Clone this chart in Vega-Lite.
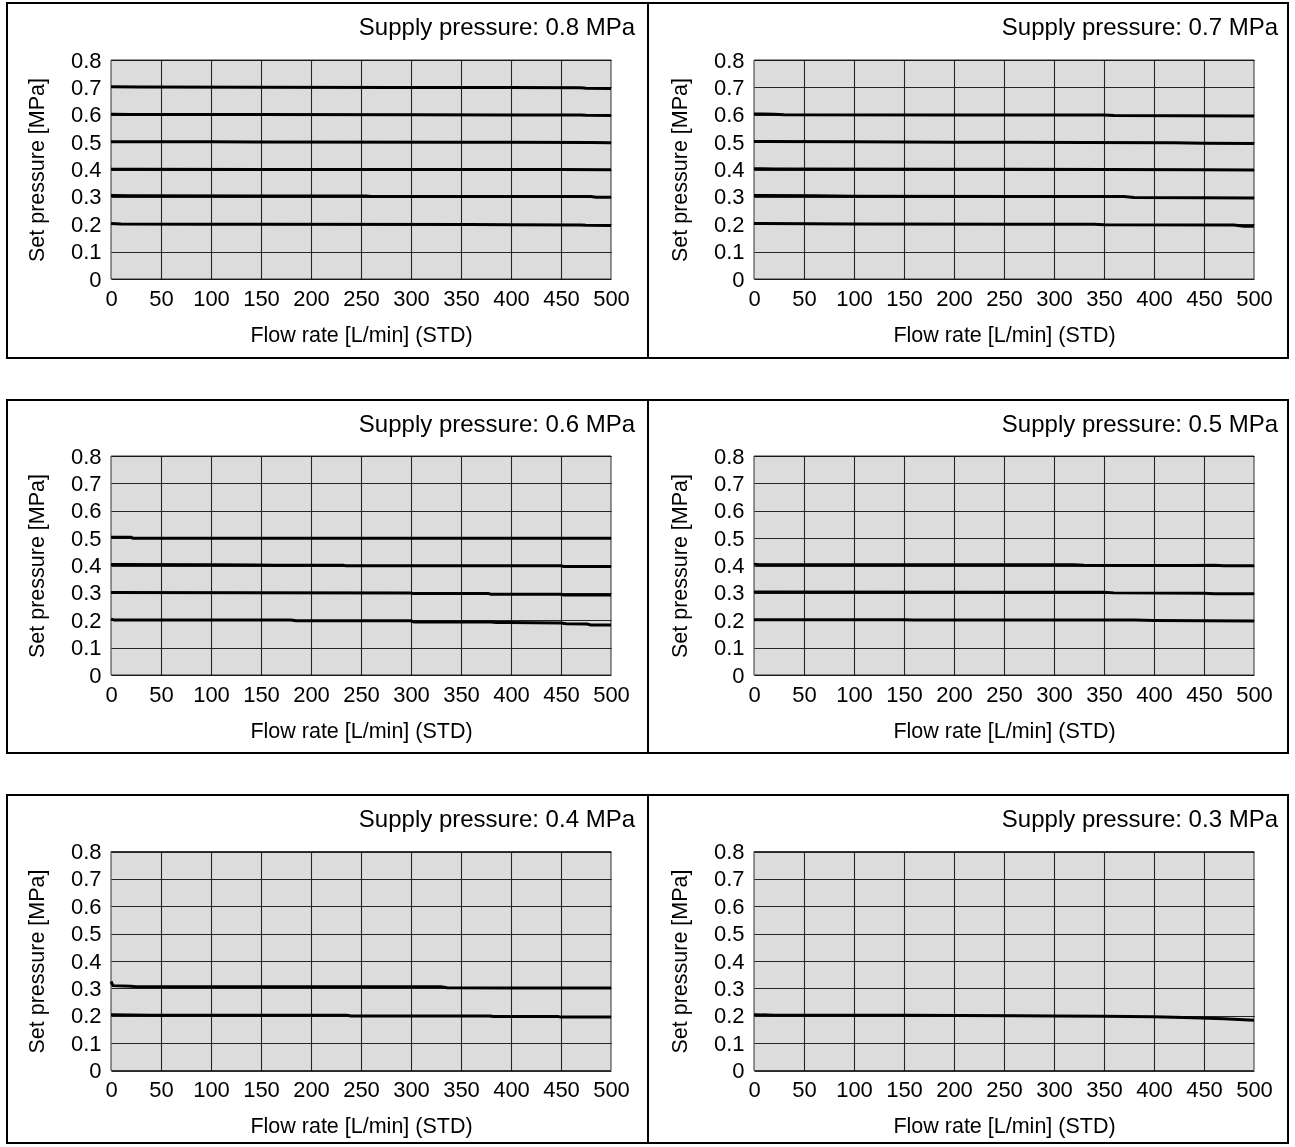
{
  "$schema": "https://vega.github.io/schema/vega-lite/v6.json",
  "padding": {"left": 6, "top": 2, "right": 0, "bottom": 0},
  "background": "white",
  "spacing": 40,
  "datasets": {
    "d": [
      {"supply":0.8,"set":0.7,"flow":0,"p":0.702},{"supply":0.8,"set":0.7,"flow":30,"p":0.701},{"supply":0.8,"set":0.7,"flow":285,"p":0.700},{"supply":0.8,"set":0.7,"flow":470,"p":0.699},{"supply":0.8,"set":0.7,"flow":475,"p":0.697},{"supply":0.8,"set":0.7,"flow":500,"p":0.696},
      {"supply":0.8,"set":0.6,"flow":0,"p":0.602},{"supply":0.8,"set":0.6,"flow":20,"p":0.601},{"supply":0.8,"set":0.6,"flow":300,"p":0.600},{"supply":0.8,"set":0.6,"flow":470,"p":0.599},{"supply":0.8,"set":0.6,"flow":475,"p":0.598},{"supply":0.8,"set":0.6,"flow":500,"p":0.597},
      {"supply":0.8,"set":0.5,"flow":0,"p":0.501},{"supply":0.8,"set":0.5,"flow":100,"p":0.501},{"supply":0.8,"set":0.5,"flow":350,"p":0.500},{"supply":0.8,"set":0.5,"flow":480,"p":0.499},{"supply":0.8,"set":0.5,"flow":500,"p":0.498},
      {"supply":0.8,"set":0.4,"flow":0,"p":0.401},{"supply":0.8,"set":0.4,"flow":30,"p":0.401},{"supply":0.8,"set":0.4,"flow":200,"p":0.400},{"supply":0.8,"set":0.4,"flow":450,"p":0.400},{"supply":0.8,"set":0.4,"flow":500,"p":0.399},
      {"supply":0.8,"set":0.3,"flow":0,"p":0.305},{"supply":0.8,"set":0.3,"flow":20,"p":0.304},{"supply":0.8,"set":0.3,"flow":255,"p":0.303},{"supply":0.8,"set":0.3,"flow":260,"p":0.301},{"supply":0.8,"set":0.3,"flow":480,"p":0.301},{"supply":0.8,"set":0.3,"flow":485,"p":0.299},{"supply":0.8,"set":0.3,"flow":500,"p":0.299},
      {"supply":0.8,"set":0.2,"flow":0,"p":0.203},{"supply":0.8,"set":0.2,"flow":10,"p":0.201},{"supply":0.8,"set":0.2,"flow":90,"p":0.200},{"supply":0.8,"set":0.2,"flow":360,"p":0.199},{"supply":0.8,"set":0.2,"flow":470,"p":0.197},{"supply":0.8,"set":0.2,"flow":475,"p":0.196},{"supply":0.8,"set":0.2,"flow":500,"p":0.195},

      {"supply":0.7,"set":0.6,"flow":0,"p":0.603},{"supply":0.7,"set":0.6,"flow":20,"p":0.602},{"supply":0.7,"set":0.6,"flow":30,"p":0.600},{"supply":0.7,"set":0.6,"flow":200,"p":0.599},{"supply":0.7,"set":0.6,"flow":350,"p":0.599},{"supply":0.7,"set":0.6,"flow":360,"p":0.597},{"supply":0.7,"set":0.6,"flow":500,"p":0.595},
      {"supply":0.7,"set":0.5,"flow":0,"p":0.502},{"supply":0.7,"set":0.5,"flow":100,"p":0.501},{"supply":0.7,"set":0.5,"flow":200,"p":0.500},{"supply":0.7,"set":0.5,"flow":330,"p":0.499},{"supply":0.7,"set":0.5,"flow":420,"p":0.498},{"supply":0.7,"set":0.5,"flow":450,"p":0.496},{"supply":0.7,"set":0.5,"flow":500,"p":0.495},
      {"supply":0.7,"set":0.4,"flow":0,"p":0.403},{"supply":0.7,"set":0.4,"flow":20,"p":0.402},{"supply":0.7,"set":0.4,"flow":200,"p":0.401},{"supply":0.7,"set":0.4,"flow":350,"p":0.400},{"supply":0.7,"set":0.4,"flow":450,"p":0.399},{"supply":0.7,"set":0.4,"flow":500,"p":0.398},
      {"supply":0.7,"set":0.3,"flow":0,"p":0.305},{"supply":0.7,"set":0.3,"flow":60,"p":0.304},{"supply":0.7,"set":0.3,"flow":100,"p":0.302},{"supply":0.7,"set":0.3,"flow":370,"p":0.301},{"supply":0.7,"set":0.3,"flow":380,"p":0.298},{"supply":0.7,"set":0.3,"flow":445,"p":0.297},{"supply":0.7,"set":0.3,"flow":500,"p":0.296},
      {"supply":0.7,"set":0.2,"flow":0,"p":0.203},{"supply":0.7,"set":0.2,"flow":100,"p":0.201},{"supply":0.7,"set":0.2,"flow":340,"p":0.200},{"supply":0.7,"set":0.2,"flow":350,"p":0.198},{"supply":0.7,"set":0.2,"flow":480,"p":0.197},{"supply":0.7,"set":0.2,"flow":490,"p":0.193},{"supply":0.7,"set":0.2,"flow":500,"p":0.193},

      {"supply":0.6,"set":0.5,"flow":0,"p":0.503},{"supply":0.6,"set":0.5,"flow":20,"p":0.503},{"supply":0.6,"set":0.5,"flow":22,"p":0.500},{"supply":0.6,"set":0.5,"flow":500,"p":0.500},
      {"supply":0.6,"set":0.4,"flow":0,"p":0.404},{"supply":0.6,"set":0.4,"flow":100,"p":0.403},{"supply":0.6,"set":0.4,"flow":165,"p":0.401},{"supply":0.6,"set":0.4,"flow":232,"p":0.401},{"supply":0.6,"set":0.4,"flow":235,"p":0.399},{"supply":0.6,"set":0.4,"flow":450,"p":0.399},{"supply":0.6,"set":0.4,"flow":453,"p":0.396},{"supply":0.6,"set":0.4,"flow":500,"p":0.396},
      {"supply":0.6,"set":0.3,"flow":0,"p":0.301},{"supply":0.6,"set":0.3,"flow":299,"p":0.300},{"supply":0.6,"set":0.3,"flow":302,"p":0.298},{"supply":0.6,"set":0.3,"flow":377,"p":0.298},{"supply":0.6,"set":0.3,"flow":380,"p":0.295},{"supply":0.6,"set":0.3,"flow":450,"p":0.295},{"supply":0.6,"set":0.3,"flow":453,"p":0.292},{"supply":0.6,"set":0.3,"flow":500,"p":0.292},
      {"supply":0.6,"set":0.2,"flow":0,"p":0.204},{"supply":0.6,"set":0.2,"flow":3,"p":0.201},{"supply":0.6,"set":0.2,"flow":180,"p":0.201},{"supply":0.6,"set":0.2,"flow":185,"p":0.198},{"supply":0.6,"set":0.2,"flow":300,"p":0.198},{"supply":0.6,"set":0.2,"flow":303,"p":0.194},{"supply":0.6,"set":0.2,"flow":380,"p":0.194},{"supply":0.6,"set":0.2,"flow":385,"p":0.192},{"supply":0.6,"set":0.2,"flow":450,"p":0.190},{"supply":0.6,"set":0.2,"flow":455,"p":0.187},{"supply":0.6,"set":0.2,"flow":476,"p":0.186},{"supply":0.6,"set":0.2,"flow":480,"p":0.183},{"supply":0.6,"set":0.2,"flow":500,"p":0.183},

      {"supply":0.5,"set":0.4,"flow":0,"p":0.405},{"supply":0.5,"set":0.4,"flow":5,"p":0.403},{"supply":0.5,"set":0.4,"flow":320,"p":0.403},{"supply":0.5,"set":0.4,"flow":330,"p":0.401},{"supply":0.5,"set":0.4,"flow":440,"p":0.400},{"supply":0.5,"set":0.4,"flow":460,"p":0.401},{"supply":0.5,"set":0.4,"flow":470,"p":0.399},{"supply":0.5,"set":0.4,"flow":500,"p":0.399},
      {"supply":0.5,"set":0.3,"flow":0,"p":0.303},{"supply":0.5,"set":0.3,"flow":350,"p":0.302},{"supply":0.5,"set":0.3,"flow":360,"p":0.300},{"supply":0.5,"set":0.3,"flow":450,"p":0.299},{"supply":0.5,"set":0.3,"flow":460,"p":0.297},{"supply":0.5,"set":0.3,"flow":500,"p":0.297},
      {"supply":0.5,"set":0.2,"flow":0,"p":0.202},{"supply":0.5,"set":0.2,"flow":150,"p":0.202},{"supply":0.5,"set":0.2,"flow":160,"p":0.201},{"supply":0.5,"set":0.2,"flow":380,"p":0.201},{"supply":0.5,"set":0.2,"flow":400,"p":0.199},{"supply":0.5,"set":0.2,"flow":500,"p":0.197},

      {"supply":0.4,"set":0.3,"flow":0,"p":0.325},{"supply":0.4,"set":0.3,"flow":2,"p":0.310},{"supply":0.4,"set":0.3,"flow":20,"p":0.308},{"supply":0.4,"set":0.3,"flow":25,"p":0.306},{"supply":0.4,"set":0.3,"flow":330,"p":0.306},{"supply":0.4,"set":0.3,"flow":336,"p":0.302},{"supply":0.4,"set":0.3,"flow":500,"p":0.301},
      {"supply":0.4,"set":0.2,"flow":0,"p":0.204},{"supply":0.4,"set":0.2,"flow":40,"p":0.202},{"supply":0.4,"set":0.2,"flow":236,"p":0.202},{"supply":0.4,"set":0.2,"flow":240,"p":0.199},{"supply":0.4,"set":0.2,"flow":379,"p":0.199},{"supply":0.4,"set":0.2,"flow":382,"p":0.197},{"supply":0.4,"set":0.2,"flow":447,"p":0.197},{"supply":0.4,"set":0.2,"flow":450,"p":0.195},{"supply":0.4,"set":0.2,"flow":500,"p":0.195},

      {"supply":0.3,"set":0.2,"flow":0,"p":0.204},{"supply":0.3,"set":0.2,"flow":20,"p":0.202},{"supply":0.3,"set":0.2,"flow":150,"p":0.202},{"supply":0.3,"set":0.2,"flow":206,"p":0.201},{"supply":0.3,"set":0.2,"flow":300,"p":0.1995},{"supply":0.3,"set":0.2,"flow":349,"p":0.1985},{"supply":0.3,"set":0.2,"flow":400,"p":0.1965},{"supply":0.3,"set":0.2,"flow":439,"p":0.1925},{"supply":0.3,"set":0.2,"flow":470,"p":0.189},{"supply":0.3,"set":0.2,"flow":500,"p":0.184}
    ]
  },
  "vconcat": [
    {"hconcat": [
      {"width": 641, "height": 355,
       "title": {"text": "Supply pressure: 0.8 MPa", "anchor": "end", "frame": "group", "orient": "top", "offset": -56, "baseline": "alphabetic", "dx": -13},
       "layer": [
         {"data": {"values": [{}]},
          "mark": {"type": "rect", "fill": "#dcdcdc", "stroke": "#333", "strokeWidth": 1, "blend": "multiply"},
          "encoding": {
            "x": {"datum": 0, "type": "quantitative", "scale": {"domain": [0, 500], "range": [104, 604], "nice": false, "zero": false}, "axis": {"orient": "top", "grid": true, "labels": false, "title": null, "values": [50,100,150,200,250,300,350,400,450]}},
            "x2": {"datum": 500},
            "y": {"datum": 0, "type": "quantitative", "scale": {"domain": [0, 0.8], "range": [276, 57], "nice": false, "zero": false}, "axis": {"orient": "left", "offset": -104, "grid": true, "values": [0,0.1,0.2,0.3,0.4,0.5,0.6,0.7,0.8], "format": ".1~f", "labelPadding": 10, "title": "Set pressure [MPa]", "titlePadding": 22}},
            "y2": {"datum": 0.8}
          }},
         {"data": {"name": "d"}, "transform": [{"filter": "datum.supply == 0.8"}],
          "mark": {"type": "line", "color": "#000", "strokeWidth": 3, "strokeCap": "butt"},
          "encoding": {
            "x": {"field": "flow", "type": "quantitative", "scale": {"domain": [0, 500], "range": [104, 604], "nice": false, "zero": false}, "axis": {"orient": "bottom", "offset": -79, "grid": false, "values": [0,50,100,150,200,250,300,350,400,450,500], "labelPadding": 9, "title": "Flow rate [L/min] (STD)", "titlePadding": 15}},
            "y": {"field": "p", "type": "quantitative", "scale": {"domain": [0, 0.8], "range": [276, 57], "nice": false, "zero": false}},
            "detail": {"field": "set", "type": "nominal"}
          }}
       ],
       "resolve": {"axis": {"x": "independent"}}
      },
      {"width": 640, "height": 355,
       "title": {"text": "Supply pressure: 0.7 MPa", "anchor": "end", "frame": "group", "orient": "top", "offset": -56, "baseline": "alphabetic", "dx": -10},
       "layer": [
         {"data": {"values": [{}]},
          "mark": {"type": "rect", "fill": "#dcdcdc", "stroke": "#333", "strokeWidth": 1, "blend": "multiply"},
          "encoding": {
            "x": {"datum": 0, "type": "quantitative", "scale": {"domain": [0, 500], "range": [106, 606], "nice": false, "zero": false}, "axis": {"orient": "top", "grid": true, "labels": false, "title": null, "values": [50,100,150,200,250,300,350,400,450]}},
            "x2": {"datum": 500},
            "y": {"datum": 0, "type": "quantitative", "scale": {"domain": [0, 0.8], "range": [276, 57], "nice": false, "zero": false}, "axis": {"orient": "left", "offset": -106, "grid": true, "values": [0,0.1,0.2,0.3,0.4,0.5,0.6,0.7,0.8], "format": ".1~f", "labelPadding": 10, "title": "Set pressure [MPa]", "titlePadding": 22}},
            "y2": {"datum": 0.8}
          }},
         {"data": {"name": "d"}, "transform": [{"filter": "datum.supply == 0.7"}],
          "mark": {"type": "line", "color": "#000", "strokeWidth": 3, "strokeCap": "butt"},
          "encoding": {
            "x": {"field": "flow", "type": "quantitative", "scale": {"domain": [0, 500], "range": [106, 606], "nice": false, "zero": false}, "axis": {"orient": "bottom", "offset": -79, "grid": false, "values": [0,50,100,150,200,250,300,350,400,450,500], "labelPadding": 9, "title": "Flow rate [L/min] (STD)", "titlePadding": 15}},
            "y": {"field": "p", "type": "quantitative", "scale": {"domain": [0, 0.8], "range": [276, 57], "nice": false, "zero": false}},
            "detail": {"field": "set", "type": "nominal"}
          }}
       ],
       "resolve": {"axis": {"x": "independent"}}
      }
    ], "spacing": 0, "bounds": "flush"},
    {"hconcat": [
      {"width": 641, "height": 353,
       "title": {"text": "Supply pressure: 0.6 MPa", "anchor": "end", "frame": "group", "orient": "top", "offset": -56, "baseline": "alphabetic", "dx": -13},
       "layer": [
         {"data": {"values": [{}]},
          "mark": {"type": "rect", "fill": "#dcdcdc", "stroke": "#333", "strokeWidth": 1, "blend": "multiply"},
          "encoding": {
            "x": {"datum": 0, "type": "quantitative", "scale": {"domain": [0, 500], "range": [104, 604], "nice": false, "zero": false}, "axis": {"orient": "top", "grid": true, "labels": false, "title": null, "values": [50,100,150,200,250,300,350,400,450]}},
            "x2": {"datum": 500},
            "y": {"datum": 0, "type": "quantitative", "scale": {"domain": [0, 0.8], "range": [275, 56], "nice": false, "zero": false}, "axis": {"orient": "left", "offset": -104, "grid": true, "values": [0,0.1,0.2,0.3,0.4,0.5,0.6,0.7,0.8], "format": ".1~f", "labelPadding": 10, "title": "Set pressure [MPa]", "titlePadding": 22}},
            "y2": {"datum": 0.8}
          }},
         {"data": {"name": "d"}, "transform": [{"filter": "datum.supply == 0.6"}],
          "mark": {"type": "line", "color": "#000", "strokeWidth": 3, "strokeCap": "butt"},
          "encoding": {
            "x": {"field": "flow", "type": "quantitative", "scale": {"domain": [0, 500], "range": [104, 604], "nice": false, "zero": false}, "axis": {"orient": "bottom", "offset": -78, "grid": false, "values": [0,50,100,150,200,250,300,350,400,450,500], "labelPadding": 9, "title": "Flow rate [L/min] (STD)", "titlePadding": 15}},
            "y": {"field": "p", "type": "quantitative", "scale": {"domain": [0, 0.8], "range": [275, 56], "nice": false, "zero": false}},
            "detail": {"field": "set", "type": "nominal"}
          }}
       ],
       "resolve": {"axis": {"x": "independent"}}
      },
      {"width": 640, "height": 353,
       "title": {"text": "Supply pressure: 0.5 MPa", "anchor": "end", "frame": "group", "orient": "top", "offset": -56, "baseline": "alphabetic", "dx": -10},
       "layer": [
         {"data": {"values": [{}]},
          "mark": {"type": "rect", "fill": "#dcdcdc", "stroke": "#333", "strokeWidth": 1, "blend": "multiply"},
          "encoding": {
            "x": {"datum": 0, "type": "quantitative", "scale": {"domain": [0, 500], "range": [106, 606], "nice": false, "zero": false}, "axis": {"orient": "top", "grid": true, "labels": false, "title": null, "values": [50,100,150,200,250,300,350,400,450]}},
            "x2": {"datum": 500},
            "y": {"datum": 0, "type": "quantitative", "scale": {"domain": [0, 0.8], "range": [275, 56], "nice": false, "zero": false}, "axis": {"orient": "left", "offset": -106, "grid": true, "values": [0,0.1,0.2,0.3,0.4,0.5,0.6,0.7,0.8], "format": ".1~f", "labelPadding": 10, "title": "Set pressure [MPa]", "titlePadding": 22}},
            "y2": {"datum": 0.8}
          }},
         {"data": {"name": "d"}, "transform": [{"filter": "datum.supply == 0.5"}],
          "mark": {"type": "line", "color": "#000", "strokeWidth": 3, "strokeCap": "butt"},
          "encoding": {
            "x": {"field": "flow", "type": "quantitative", "scale": {"domain": [0, 500], "range": [106, 606], "nice": false, "zero": false}, "axis": {"orient": "bottom", "offset": -78, "grid": false, "values": [0,50,100,150,200,250,300,350,400,450,500], "labelPadding": 9, "title": "Flow rate [L/min] (STD)", "titlePadding": 15}},
            "y": {"field": "p", "type": "quantitative", "scale": {"domain": [0, 0.8], "range": [275, 56], "nice": false, "zero": false}},
            "detail": {"field": "set", "type": "nominal"}
          }}
       ],
       "resolve": {"axis": {"x": "independent"}}
      }
    ], "spacing": 0, "bounds": "flush"},
    {"hconcat": [
      {"width": 641, "height": 348,
       "title": {"text": "Supply pressure: 0.4 MPa", "anchor": "end", "frame": "group", "orient": "top", "offset": -56, "baseline": "alphabetic", "dx": -13},
       "layer": [
         {"data": {"values": [{}]},
          "mark": {"type": "rect", "fill": "#dcdcdc", "stroke": "#333", "strokeWidth": 1, "blend": "multiply"},
          "encoding": {
            "x": {"datum": 0, "type": "quantitative", "scale": {"domain": [0, 500], "range": [104, 604], "nice": false, "zero": false}, "axis": {"orient": "top", "grid": true, "labels": false, "title": null, "values": [50,100,150,200,250,300,350,400,450]}},
            "x2": {"datum": 500},
            "y": {"datum": 0, "type": "quantitative", "scale": {"domain": [0, 0.8], "range": [275.5, 56.5], "nice": false, "zero": false}, "axis": {"orient": "left", "offset": -104, "grid": true, "values": [0,0.1,0.2,0.3,0.4,0.5,0.6,0.7,0.8], "format": ".1~f", "labelPadding": 10, "title": "Set pressure [MPa]", "titlePadding": 22}},
            "y2": {"datum": 0.8}
          }},
         {"data": {"name": "d"}, "transform": [{"filter": "datum.supply == 0.4"}],
          "mark": {"type": "line", "color": "#000", "strokeWidth": 3, "strokeCap": "butt"},
          "encoding": {
            "x": {"field": "flow", "type": "quantitative", "scale": {"domain": [0, 500], "range": [104, 604], "nice": false, "zero": false}, "axis": {"orient": "bottom", "offset": -72.5, "grid": false, "values": [0,50,100,150,200,250,300,350,400,450,500], "labelPadding": 9, "title": "Flow rate [L/min] (STD)", "titlePadding": 15}},
            "y": {"field": "p", "type": "quantitative", "scale": {"domain": [0, 0.8], "range": [275.5, 56.5], "nice": false, "zero": false}},
            "detail": {"field": "set", "type": "nominal"}
          }}
       ],
       "resolve": {"axis": {"x": "independent"}}
      },
      {"width": 640, "height": 348,
       "title": {"text": "Supply pressure: 0.3 MPa", "anchor": "end", "frame": "group", "orient": "top", "offset": -56, "baseline": "alphabetic", "dx": -10},
       "layer": [
         {"data": {"values": [{}]},
          "mark": {"type": "rect", "fill": "#dcdcdc", "stroke": "#333", "strokeWidth": 1, "blend": "multiply"},
          "encoding": {
            "x": {"datum": 0, "type": "quantitative", "scale": {"domain": [0, 500], "range": [106, 606], "nice": false, "zero": false}, "axis": {"orient": "top", "grid": true, "labels": false, "title": null, "values": [50,100,150,200,250,300,350,400,450]}},
            "x2": {"datum": 500},
            "y": {"datum": 0, "type": "quantitative", "scale": {"domain": [0, 0.8], "range": [275.5, 56.5], "nice": false, "zero": false}, "axis": {"orient": "left", "offset": -106, "grid": true, "values": [0,0.1,0.2,0.3,0.4,0.5,0.6,0.7,0.8], "format": ".1~f", "labelPadding": 10, "title": "Set pressure [MPa]", "titlePadding": 22}},
            "y2": {"datum": 0.8}
          }},
         {"data": {"name": "d"}, "transform": [{"filter": "datum.supply == 0.3"}],
          "mark": {"type": "line", "color": "#000", "strokeWidth": 3, "strokeCap": "butt"},
          "encoding": {
            "x": {"field": "flow", "type": "quantitative", "scale": {"domain": [0, 500], "range": [106, 606], "nice": false, "zero": false}, "axis": {"orient": "bottom", "offset": -72.5, "grid": false, "values": [0,50,100,150,200,250,300,350,400,450,500], "labelPadding": 9, "title": "Flow rate [L/min] (STD)", "titlePadding": 15}},
            "y": {"field": "p", "type": "quantitative", "scale": {"domain": [0, 0.8], "range": [275.5, 56.5], "nice": false, "zero": false}},
            "detail": {"field": "set", "type": "nominal"}
          }}
       ],
       "resolve": {"axis": {"x": "independent"}}
      }
    ], "spacing": 0, "bounds": "flush"}
  ],
  "config": {
    "font": "Liberation Sans",
    "view": {"stroke": "#000", "strokeWidth": 2, "fill": "white"},
    "axis": {"labelFont": "Liberation Sans", "labelFontSize": 22, "labelColor": "#000", "labelFlush": false, "titleFont": "Liberation Sans", "titleFontSize": 21.5, "titleFontWeight": "normal", "titleColor": "#000", "ticks": false, "domain": false, "gridColor": "#2a2a2a", "gridWidth": 1.1, "gridOpacity": 1},
    "title": {"font": "Liberation Sans", "fontSize": 24, "fontWeight": "normal", "color": "#000"}
  }
}
